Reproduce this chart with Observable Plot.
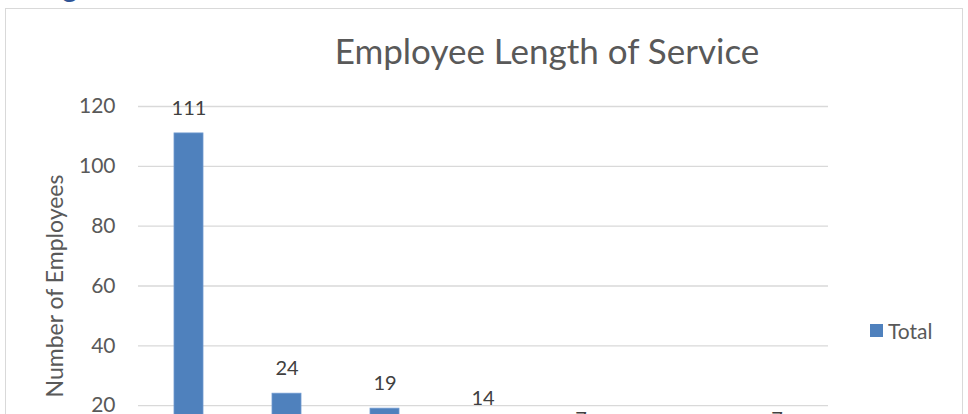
<!DOCTYPE html>
<html>
<head>
<meta charset="utf-8">
<script src="https://cdn.jsdelivr.net/npm/d3@7"></script>
<script src="https://cdn.jsdelivr.net/npm/@observablehq/plot@0.6"></script>
<style>
  html, body { margin: 0; padding: 0; background: #fff; overflow: hidden; }
  #wrap { position: relative; width: 968px; height: 414px; overflow: hidden; font-family: Lato, "Open Sans", sans-serif; }
  #frame { position: absolute; left: 5px; top: 8px; width: 958px; height: 600px; border: 1.5px solid #d9d9d9; box-sizing: border-box; }
  #chart { position: absolute; left: 0; top: 0; }
  #title { position: absolute; left: 0; width: 1094px; top: 33px; text-align: center; font-size: 35px; color: #595959; font-weight: 400; line-height: 1; }
  #legend { position: absolute; left: 870px; top: 318px; font-size: 21px; color: #595959; display: flex; align-items: center; gap: 5px; line-height: 1.2; }
  #legend span.sw { width: 13px; height: 13px; background: #4f81bd; display: inline-block; }
  #head { position: absolute; left: 0; top: 0; }
</style>
</head>
<body>
<div id="wrap">
  <svg id="head" width="968" height="12"><text x="15" y="-3" font-size="30" fill="#2f5496" font-family="Lato, sans-serif">Length of Service</text></svg>
  <div id="frame"></div>
  <div id="chart"></div>
  <div id="title">Employee Length of Service</div>
  <div id="legend"><span class="sw"></span><span>Total</span></div>
</div>
<script>
const categories = ["< 1 Year", "1-2 Years", "3-5 Years", "6-10 Years", "11-15 Years", "16-20 Years", "20+ Years"];
const totals = [111, 24, 19, 14, 7, 5, 7];
const yTicks = [0, 20, 40, 60, 80, 100, 120];

const data = categories.map((c, i) => ({category: c, total: totals[i]}));

const chart = Plot.plot({
  width: 968,
  height: 540,
  marginTop: 106,
  marginBottom: 75,
  marginLeft: 138,
  marginRight: 140,
  style: {fontFamily: "Lato, 'Open Sans', sans-serif", background: "transparent", overflow: "visible"},
  x: {domain: categories, paddingInner: 0.7, paddingOuter: 0.35, axis: null},
  y: {domain: [0, 120], axis: null},
  marks: [
    Plot.gridY(yTicks, {stroke: "#d9d9d9", strokeOpacity: 1, strokeWidth: 1.3}),
    Plot.axisY(yTicks, {tickSize: 0, tickPadding: 23, fontSize: 21, fill: "#595959", label: null}),
    Plot.text(["Number of Employees"], {frameAnchor: "left", textAnchor: "middle", rotate: -90, dx: -83, fontSize: 23, fill: "#595959"}),
    Plot.barY(data, {x: "category", y: "total", fill: "#4f81bd", stroke: "#6f9ad0", strokeWidth: 0.8}),
    Plot.text(data, {x: "category", y: "total", text: d => String(d.total), dy: -25, fontSize: 20, fill: "#404040"}),
    Plot.axisX({tickSize: 0, tickPadding: 12, fontSize: 20, fill: "#595959", label: null})
  ]
});
document.getElementById("chart").appendChild(chart);
</script>
</body>
</html>
